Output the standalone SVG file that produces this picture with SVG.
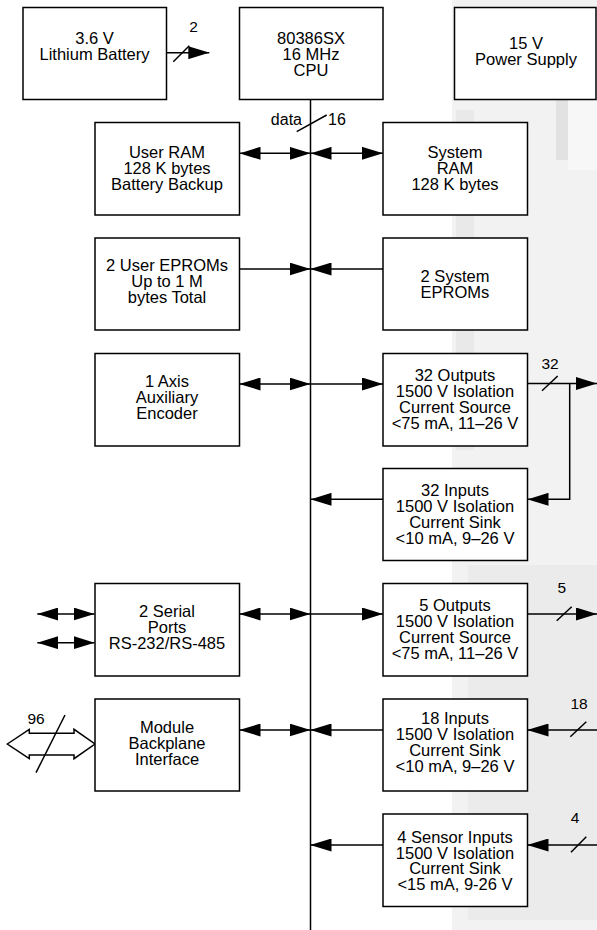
<svg xmlns="http://www.w3.org/2000/svg" width="597" height="930" viewBox="0 0 597 930">
<defs>
<style>
.box{fill:#fff;stroke:#000;stroke-width:1.5}
.t{font-family:"Liberation Sans",Arial,sans-serif;font-size:16.5px;text-anchor:middle;fill:#000}
.lbl{font-family:"Liberation Sans",Arial,sans-serif;font-size:15.5px;text-anchor:middle;fill:#000}
.ln{stroke:#000;stroke-width:1.5;fill:none}
</style>
<marker id="ah" markerUnits="userSpaceOnUse" markerWidth="21" markerHeight="13" viewBox="0 0 21 13" refX="21" refY="6.5" orient="auto-start-reverse">
<path d="M0,0 L21,6.5 L0,13 z" fill="#000"/>
</marker>
</defs>
<rect width="597" height="930" fill="#fff"/>
<g id="background">
<rect x="452" y="0" width="145" height="930" fill="#f2f2f2"/>
<rect x="456" y="110" width="18" height="340" fill="#e9e9e9"/>
<rect x="556" y="95" width="12" height="65" fill="#e2e2e2"/>
<rect x="568" y="95" width="29" height="75" fill="#f7f7f7"/>
<rect x="468" y="565" width="129" height="355" fill="#ebebeb"/>
</g>
<g id="connectors">
<line class="ln" x1="166.5" y1="52.7" x2="209.3" y2="52.7" marker-end="url(#ah)"/>
<line class="ln" x1="173.3" y1="61.7" x2="189.3" y2="45.7"/>
<text class="lbl" x="193.5" y="32">2</text>
<line class="ln" x1="310.5" y1="99.5" x2="310.5" y2="930"/>
<line class="ln" x1="296.7" y1="131.7" x2="326.7" y2="115"/>
<text class="lbl" x="302" y="125" style="text-anchor:end;font-size:16px">data</text>
<text class="lbl" x="328" y="125" style="text-anchor:start;font-size:16px">16</text>
<line class="ln" x1="239.5" y1="153.3" x2="310.5" y2="153.3" marker-start="url(#ah)" marker-end="url(#ah)"/>
<line class="ln" x1="310.5" y1="153.3" x2="383" y2="153.3" marker-start="url(#ah)" marker-end="url(#ah)"/>
<line class="ln" x1="239" y1="269" x2="310.5" y2="269" marker-end="url(#ah)"/>
<line class="ln" x1="383" y1="269" x2="310.5" y2="269" marker-end="url(#ah)"/>
<line class="ln" x1="239.5" y1="384" x2="310.5" y2="384" marker-start="url(#ah)" marker-end="url(#ah)"/>
<line class="ln" x1="310.5" y1="384" x2="383" y2="384" marker-end="url(#ah)"/>
<line class="ln" x1="527.5" y1="383.5" x2="597" y2="383.5" marker-end="url(#ah)"/>
<line class="ln" x1="542" y1="390.7" x2="557.7" y2="376"/>
<text class="lbl" x="550" y="369">32</text>
<polyline class="ln" points="569.7,383.5 569.7,499.3 527.5,499.3" marker-end="url(#ah)"/>
<line class="ln" x1="383" y1="499.3" x2="310.5" y2="499.3" marker-end="url(#ah)"/>
<line class="ln" x1="239.5" y1="614" x2="310.5" y2="614" marker-start="url(#ah)" marker-end="url(#ah)"/>
<line class="ln" x1="310.5" y1="614" x2="383" y2="614" marker-end="url(#ah)"/>
<line class="ln" x1="37.3" y1="614" x2="94.5" y2="614" marker-start="url(#ah)" marker-end="url(#ah)"/>
<line class="ln" x1="37.3" y1="642.7" x2="94.5" y2="642.7" marker-start="url(#ah)" marker-end="url(#ah)"/>
<line class="ln" x1="527.5" y1="614" x2="597" y2="614" marker-end="url(#ah)"/>
<line class="ln" x1="556.7" y1="620.7" x2="571.7" y2="606.7"/>
<text class="lbl" x="561.7" y="593">5</text>
<line class="ln" x1="239.5" y1="730" x2="310.5" y2="730" marker-start="url(#ah)" marker-end="url(#ah)"/>
<line class="ln" x1="383" y1="730" x2="310.5" y2="730" marker-end="url(#ah)"/>
<polygon class="ln" style="fill:#fff" points="7.3,744 29.3,729.3 29.3,733.3 74,733.3 74,729.3 95,744 74,758.7 74,755 29.3,755 29.3,758.7"/>
<line class="ln" x1="65" y1="715" x2="36" y2="772.7"/>
<text class="lbl" x="36" y="724">96</text>
<line class="ln" x1="597" y1="730" x2="527.5" y2="730" marker-end="url(#ah)"/>
<line class="ln" x1="570.3" y1="736.7" x2="586.3" y2="721.7"/>
<text class="lbl" x="579" y="709">18</text>
<line class="ln" x1="383" y1="845" x2="310.5" y2="845" marker-end="url(#ah)"/>
<line class="ln" x1="597" y1="845" x2="527.5" y2="845" marker-end="url(#ah)"/>
<line class="ln" x1="571" y1="852.3" x2="586.3" y2="836.7"/>
<text class="lbl" x="575" y="823">4</text>
</g>
<g id="battery">
<rect class="box" x="23" y="7.5" width="143.5" height="92"/>
<text class="t" x="94.5" y="44">3.6 V</text>
<text class="t" x="94.5" y="60">Lithium Battery</text>
</g>
<g id="cpu">
<rect class="box" x="239.5" y="7.5" width="143.5" height="92"/>
<text class="t" x="311" y="43.5">80386SX</text>
<text class="t" x="311" y="59.5">16 MHz</text>
<text class="t" x="311" y="75.5">CPU</text>
</g>
<g id="power-supply">
<rect class="box" x="454.5" y="7.5" width="141.5" height="92"/>
<text class="t" x="526" y="49">15 V</text>
<text class="t" x="526" y="65">Power Supply</text>
</g>
<g id="user-ram">
<rect class="box" x="95" y="122.5" width="144.5" height="92.5"/>
<text class="t" x="167" y="158">User RAM</text>
<text class="t" x="167" y="174">128 K bytes</text>
<text class="t" x="167" y="190">Battery Backup</text>
</g>
<g id="system-ram">
<rect class="box" x="383" y="122.5" width="144.5" height="92.5"/>
<text class="t" x="455" y="158">System</text>
<text class="t" x="455" y="174">RAM</text>
<text class="t" x="455" y="190">128 K bytes</text>
</g>
<g id="user-eproms">
<rect class="box" x="95" y="238" width="144.5" height="92"/>
<text class="t" x="167" y="270.7">2 User EPROMs</text>
<text class="t" x="167" y="286.7">Up to 1 M</text>
<text class="t" x="167" y="302.7">bytes Total</text>
</g>
<g id="system-eproms">
<rect class="box" x="383" y="238" width="144.5" height="92"/>
<text class="t" x="455" y="282.3">2 System</text>
<text class="t" x="455" y="298">EPROMs</text>
</g>
<g id="encoder">
<rect class="box" x="95" y="353.5" width="144.5" height="92.5"/>
<text class="t" x="167" y="386.7">1 Axis</text>
<text class="t" x="167" y="402.7">Auxiliary</text>
<text class="t" x="167" y="418.5">Encoder</text>
</g>
<g id="outputs-32">
<rect class="box" x="383" y="353.5" width="144.5" height="92.5"/>
<text class="t" x="455" y="381">32 Outputs</text>
<text class="t" x="455" y="397">1500 V Isolation</text>
<text class="t" x="455" y="413">Current Source</text>
<text class="t" x="455" y="429">&lt;75 mA, 11–26 V</text>
</g>
<g id="inputs-32">
<rect class="box" x="383" y="468.5" width="144.5" height="92"/>
<text class="t" x="455" y="496">32 Inputs</text>
<text class="t" x="455" y="512">1500 V Isolation</text>
<text class="t" x="455" y="528">Current Sink</text>
<text class="t" x="455" y="544">&lt;10 mA, 9–26 V</text>
</g>
<g id="serial-ports">
<rect class="box" x="95" y="583.5" width="144.5" height="92.5"/>
<text class="t" x="167" y="616.7">2 Serial</text>
<text class="t" x="167" y="632.7">Ports</text>
<text class="t" x="167" y="648.5">RS-232/RS-485</text>
</g>
<g id="outputs-5">
<rect class="box" x="383" y="583.5" width="144.5" height="92.5"/>
<text class="t" x="455" y="611">5 Outputs</text>
<text class="t" x="455" y="627">1500 V Isolation</text>
<text class="t" x="455" y="643">Current Source</text>
<text class="t" x="455" y="659">&lt;75 mA, 11–26 V</text>
</g>
<g id="backplane">
<rect class="box" x="95" y="699" width="144.5" height="92"/>
<text class="t" x="167" y="733.3">Module</text>
<text class="t" x="167" y="749.3">Backplane</text>
<text class="t" x="167" y="765">Interface</text>
</g>
<g id="inputs-18">
<rect class="box" x="383" y="699" width="144.5" height="92"/>
<text class="t" x="455" y="724">18 Inputs</text>
<text class="t" x="455" y="740">1500 V Isolation</text>
<text class="t" x="455" y="756">Current Sink</text>
<text class="t" x="455" y="772">&lt;10 mA, 9–26 V</text>
</g>
<g id="sensor-inputs">
<rect class="box" x="383" y="814" width="144.5" height="92.5"/>
<text class="t" x="455" y="842.7">4 Sensor Inputs</text>
<text class="t" x="455" y="858.5">1500 V Isolation</text>
<text class="t" x="455" y="874.3">Current Sink</text>
<text class="t" x="455" y="890">&lt;15 mA, 9-26 V</text>
</g>
</svg>
